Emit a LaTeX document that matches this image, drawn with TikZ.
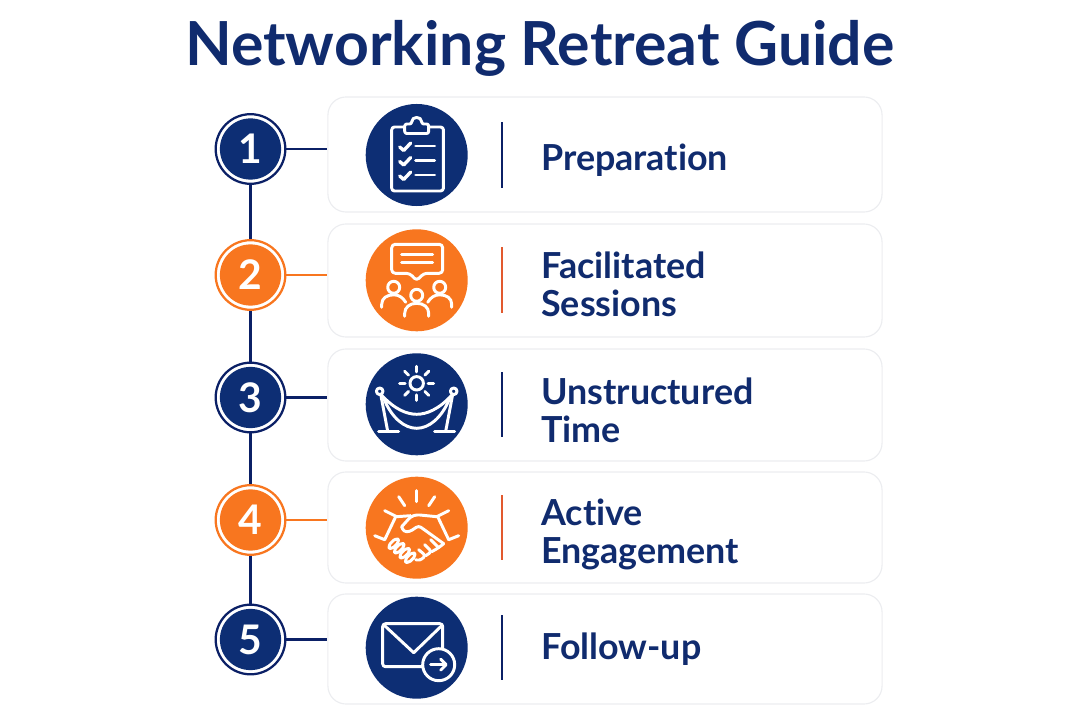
\documentclass[tikz,border=0pt]{standalone}
\usepackage{fontspec}
\setmainfont{Lato}[Ligatures={NoCommon,NoContextual}]
\usetikzlibrary{shapes,calc,positioning}
\definecolor{navy}{HTML}{0D2E74}
\definecolor{navyline}{HTML}{0B2066}
\definecolor{navytext}{HTML}{102B6E}
\definecolor{orangefill}{HTML}{F8761F}
\definecolor{orangebar}{HTML}{E2592E}
\definecolor{cardline}{HTML}{ECEDF0}
\tikzset{
    x=0.025cm,y=-0.025cm,
    card/.style ={rectangle, draw=cardline, fill=white, line width=0.8pt, rounded corners=0.45cm, minimum width=13.85cm},
    ring/.style ={circle, draw=#1, fill=white, line width=1.6pt, minimum size=1.74cm, inner sep=0pt},
    num/.style ={circle, fill=#1, text=white, minimum size=1.53cm, inner sep=0pt, font=\fontsize{29}{29}\selectfont\bfseries},
    disc/.style ={circle, fill=#1, minimum size=2.55cm, inner sep=0pt},
    bar/.style ={rectangle, fill=#1, minimum width=1.3pt, minimum height=1.63cm, inner sep=0pt},
    lab/.style ={anchor=west, align=left, inner sep=0pt, text=navytext, font=\fontsize{25.5}{27}\selectfont\bfseries},
    stem/.style ={draw=navyline, line width=1.9pt},
    stub/.style ={draw=#1, line width=1.9pt},
    ico/.style ={draw=white, line width=2.1pt, line cap=round, line join=round}
}

\begin{document}
\begin{tikzpicture}
    \useasboundingbox (0,0) rectangle (1080,720);
    %Title
    \node[text=navytext, font=\fontsize{43.2}{44}\selectfont\bfseries] (title) at (540,48) {Networking Retreat Guide};

    %%Nodes
    \node[ring=navyline] (r1) at (250.5,149) {};
    \node[ring=orangefill] (r2) at (250.5,275) {};
    \node[ring=navyline] (r3) at (250.5,397.5) {};
    \node[ring=orangefill] (r4) at (250.5,520) {};
    \node[ring=navyline] (r5) at (250.5,639.5) {};

    \node[num=navy] (n1) at (r1) {1};
    \node[num=orangefill] (n2) at (r2) {2};
    \node[num=navy] (n3) at (r3) {3};
    \node[num=orangefill] (n4) at (r4) {4};
    \node[num=navy] (n5) at (r5) {5};

    % Directed edge
    \path (r1) edge[stem] (r2);
    \path (r2) edge[stem] (r3);
    \path (r3) edge[stem] (r4);
    \path (r4) edge[stem] (r5);

    \node[card, minimum height=2.875cm] (c1) at (605,154.5) {};
    \node[card, minimum height=2.825cm] (c2) at (605,280.5) {};
    \node[card, minimum height=2.8cm] (c3) at (605,405) {};
    \node[card, minimum height=2.775cm] (c4) at (605,527.5) {};
    \node[card, minimum height=2.75cm] (c5) at (605,649) {};

    \path (r1) edge[stub=navyline] (r1 -| c1.west);
    \path (r2) edge[stub=orangefill] (r2 -| c2.west);
    \path (r3) edge[stub=navyline] (r3 -| c3.west);
    \path (r4) edge[stub=orangefill] (r4 -| c4.west);
    \path (r5) edge[stub=navyline] (r5 -| c5.west);

    \node[disc=navy] (i1) at (416.7,155) {};
    \node[disc=orangefill] (i2) at (416.7,280.3) {};
    \node[disc=navy] (i3) at (416.7,404.3) {};
    \node[disc=orangefill] (i4) at (416.7,527.7) {};
    \node[disc=navy] (i5) at (416.7,647.7) {};

    \node[bar=navyline] (b1) at (502,155) {};
    \node[bar=orangebar] (b2) at (502,280) {};
    \node[bar=navyline] (b3) at (502,404.5) {};
    \node[bar=orangebar] (b4) at (502,527.5) {};
    \node[bar=navyline] (b5) at (502,647.5) {};

    \node[lab] (l1) at (541,160) {Preparation};
    \node[lab] (l2) at (541,284) {Facilitated\\Sessions};
    \node[lab] (l3) at (541,410) {Unstructured\\Time};
    \node[lab] (l4) at (541,534) {Active\\Engagement};
    \node[lab] (l5) at (541,649) {Follow-up};

    %%Clipboard
    \begin{scope}[shift={(i1)}]
        \draw[ico, rounded corners=2pt] (-25,-28) rectangle (26.7,36);
        \draw[ico, fill=navy, rounded corners=1.5pt] (-12,-21.5) -- (-12,-31) -- (-5,-31) .. controls (-5,-39) and (5,-39) .. (5,-31) -- (12,-31) -- (12,-21.5) -- cycle;
        \foreach \yy in {-8,6.5,21} {
            \draw[ico, line width=2.4pt] (-17,\yy) -- (-13,\yy+3.5) -- (-6,\yy-4);
            \draw[ico] (-1,\yy-1) -- (18,\yy-1);
        }
    \end{scope}

    %%People
    \begin{scope}[shift={(i2)}]
        \draw[ico, rounded corners=2.5pt] (-25,-36) -- (26,-36) -- (26,-7) -- (7,-7) -- (0,0.5) -- (-7,-7) -- (-25,-7) -- cycle;
        \draw[ico] (-15,-26) -- (16,-26);
        \draw[ico] (-15,-18) -- (16,-18);
        \draw[ico] (-23,7) circle (6);
        \draw[ico] (0,15) circle (6);
        \draw[ico] (23,7) circle (6);
        \draw[ico] (-35,27) -- (-35,24) .. controls (-35,18) and (-30,14.5) .. (-23,14.5) .. controls (-18,14.5) and (-14,17) .. (-11,22);
        \draw[ico] (35,27) -- (35,24) .. controls (35,18) and (30,14.5) .. (23,14.5) .. controls (18,14.5) and (14,17) .. (11,22);
        \draw[ico] (-12,36) -- (-12,33) .. controls (-12,27) and (-7,23) .. (0,23) .. controls (7,23) and (12,27) .. (12,33) -- (12,36);
    \end{scope}

    %%Rope and sun
    \begin{scope}[shift={(i3)}]
        \draw[ico] (0,-21) circle (6.7);
        \foreach \ang in {0,45,...,315} {
            \draw[ico] ($(0,-21)+(\ang:11.5)$) -- ($(0,-21)+(\ang:17)$);
        }
        \draw[ico] (-37,-13) circle (3.3);
        \draw[ico] (37,-13) circle (3.3);
        \draw[ico] (-36,-10) -- (-29,27);
        \draw[ico] (36,-10) -- (29,27);
        \draw[ico] (-38,27) -- (-18,27);
        \draw[ico] (18,27) -- (38,27);
        \draw[ico] (-35,-9) .. controls (-22,5) and (-10,10) .. (0,10) .. controls (10,10) and (22,5) .. (35,-9);
        \draw[ico] (-33,-6) .. controls (-25,14) and (-12,24) .. (0,24) .. controls (12,24) and (25,14) .. (33,-6);
    \end{scope}

    %%Handshake
    \begin{scope}[shift={(i4)}]
        \draw[ico] (0,-37) -- (0,-26);
        \draw[ico] (-18,-31) -- (-12,-22);
        \draw[ico] (18,-31) -- (12,-22);
        \draw[ico] (-32,-17) -- (-20,-11);
        \draw[ico] (32,-17) -- (20,-11);
        \draw[ico] (-42,8) -- (-32,12);
        \draw[ico] (42,8) -- (32,12);
        \draw[ico] (-21,-11) -- (-32,12);
        \draw[ico] (21,-11) -- (32,12);
        \draw[ico] (-20,-11) -- (-6,-12);
        \draw[ico, rounded corners=2pt] (-15,-1) -- (-6,-11) -- (0,-13) -- (20,-11);
        \draw[ico, rounded corners=2pt] (-15,-1) -- (-13,4) -- (-7,4) -- (2,-2) -- (27,16);
        \foreach \xx/\yy in {-23/16,-17.5/20.5,-12/25.5,-6.5/30} {
            \draw[ico, fill=orangefill, rotate around={-45:(\xx,\yy)}, rounded corners=2.5pt] (\xx-2.5,\yy-6) rectangle (\xx+2.5,\yy+6);
        }
        \draw[ico, rounded corners=2pt] (-1,32) -- (3,33) -- (9,28) -- (2,22);
        \draw[ico, rounded corners=2pt] (9,28) -- (15,24) -- (8,17);
        \draw[ico, rounded corners=2pt] (15,24) -- (22,20) -- (27,16);
        \draw[ico] (22,20) -- (14,12);
    \end{scope}

    %%Envelope
    \begin{scope}[shift={(i5)}]
        \draw[ico, rounded corners=2pt] (-34,-24) rectangle (26,19);
        \draw[ico] (-32,-22) -- (-3,5) -- (25,-22);
        \draw[ico, fill=navy] (22,17) circle (16);
        \draw[ico] (14,17) -- (29,17);
        \draw[ico] (24,11.5) -- (29.5,17) -- (24,22.5);
    \end{scope}
\end{tikzpicture}
\end{document}
